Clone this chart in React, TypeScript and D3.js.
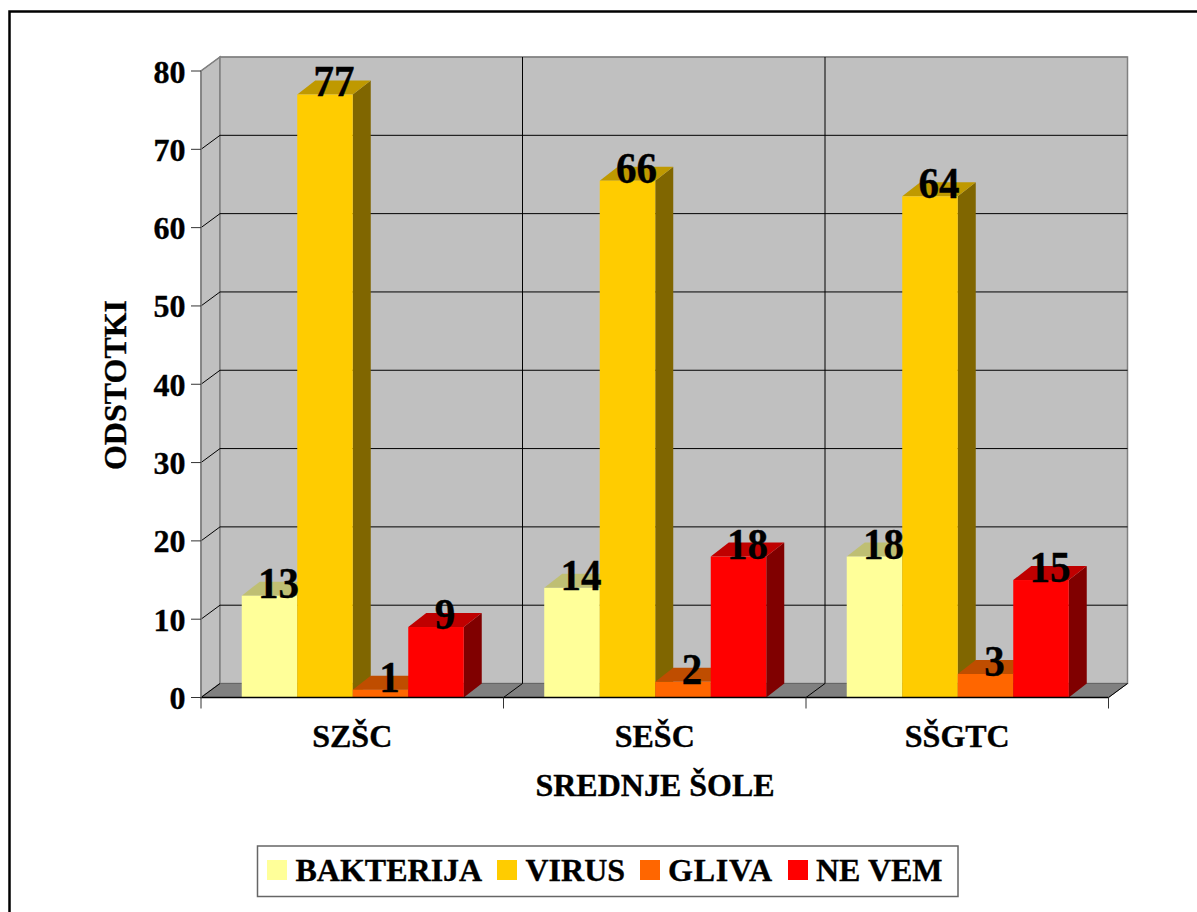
import React from "react";
import * as d3 from "d3";

const schools = ["SZŠC", "SEŠC", "SŠGTC"];
const seriesNames = ["BAKTERIJA", "VIRUS", "GLIVA", "NE VEM"];
const seriesColors = ["#ffff99", "#ffcc00", "#ff6600", "#ff0000"];
const bakterija = [13, 14, 18];
const virus = [77, 66, 64];
const gliva = [1, 2, 3];
const neVem = [9, 18, 15];
const seriesValues = [bakterija, virus, gliva, neVem];
const yTicks = [0, 10, 20, 30, 40, 50, 60, 70, 80];

const width = 1197;
const height = 912;
const font = "'Liberation Serif', 'Times New Roman', serif";

const x0 = 201;
const x1 = 1108.5;
const y0 = 697.5;
const y1 = 71;
// offset of the back wall
const wallDx = 19;
const wallDy = -14;
// offset of the bar depth
const barDx = 18;
const barDy = -14;

const y = d3.scaleLinear().domain([0, 80]).range([y0, y1]);
const xGroup = d3.scaleBand<string>().domain(schools).range([x0, x1]);
const xBar = d3
  .scaleBand<number>()
  .domain(d3.range(seriesNames.length))
  .range([0.5, xGroup.bandwidth() + 0.5])
  .paddingOuter(0.725)
  .paddingInner(0);

const poly = d3.line();
const closed = (pts: [number, number][]) => poly(pts) + "Z";
const shade = (c: string, k: number) => {
  const r = d3.rgb(c);
  return d3.rgb(r.r * k, r.g * k, r.b * k).formatHex();
};

const legendItems = [
  { swatch: 267, text: 295.5 },
  { swatch: 497, text: 525.5 },
  { swatch: 640, text: 668, length: 104 },
  { swatch: 788, text: 816 },
];

// the source text is a little heavier than Liberation bold
const heavy = { stroke: "#000", strokeWidth: 0.35 };

export default function App() {
  const boundaries = [...schools.map((s) => xGroup(s) as number), x1];
  return (
    <svg
      width={width}
      height={height}
      style={{ position: "absolute", left: 0, top: 0, display: "block" }}
      fontFamily={font}
      fontWeight="bold"
    >
      <rect width={width} height={height} fill="#fff" />
      <path d={`M9.5,${height}V11.5H${width}`} fill="none" stroke="#000" strokeWidth={2.5} />

      {/* walls */}
      <path
        d={closed([[x0, y0], [x0 + wallDx, y0 + wallDy], [x0 + wallDx, y1 + wallDy], [x0, y1]])}
        fill="#c0c0c0"
        stroke="#808080"
        strokeWidth={1.5}
      />
      <rect
        x={x0 + wallDx}
        y={y1 + wallDy}
        width={x1 - x0}
        height={y0 - y1}
        fill="#c0c0c0"
        stroke="#808080"
        strokeWidth={1.5}
      />
      <path
        d={closed([[x0, y0], [x1, y0], [x1 + wallDx, y0 + wallDy], [x0 + wallDx, y0 + wallDy]])}
        fill="#808080"
        stroke="#666"
        strokeWidth={1}
      />

      {/* gridlines */}
      {yTicks.slice(1).map((t) => (
        <path
          key={t}
          d={`M${x0},${y(t)}L${x0 + wallDx},${y(t) + wallDy}H${x1 + wallDx}`}
          fill="none"
          stroke={t === 80 ? "#808080" : "#000"}
          strokeWidth={1}
        />
      ))}
      {boundaries.slice(1, -1).map((b) => (
        <line key={b} x1={b + wallDx} x2={b + wallDx} y1={y1 + wallDy} y2={y0 + wallDy} stroke="#000" strokeWidth={1} />
      ))}
      {boundaries.map((b) => (
        <line key={b} x1={b} x2={b + wallDx} y1={y0} y2={y0 + wallDy} stroke="#000" strokeWidth={1} />
      ))}

      {/* bars */}
      {schools.map((s, gi) =>
        seriesNames.map((_, si) => {
          const v = seriesValues[si][gi];
          const left = (xGroup(s) as number) + (xBar(si) as number);
          const right = left + xBar.bandwidth();
          const top = y(v);
          const color = seriesColors[si];
          return (
            <g key={s + si}>
              <path
                d={closed([[right, y0], [right + barDx, y0 + barDy], [right + barDx, top + barDy], [right, top]])}
                fill={shade(color, 0.5)}
              />
              <path
                d={closed([[left, top], [right, top], [right + barDx, top + barDy], [left + barDx, top + barDy]])}
                fill={shade(color, 0.75)}
              />
              <rect x={left} y={top} width={right - left} height={y0 - top} fill={color} />
            </g>
          );
        })
      )}

      {/* axes */}
      <line x1={x0} x2={x1} y1={y0} y2={y0} stroke="#000" strokeWidth={1.5} />
      <line x1={x0} x2={x0} y1={y0} y2={y1} stroke="#808080" strokeWidth={1.5} />
      {yTicks.map((t) => (
        <g key={t}>
          <line x1={x0 - 10} x2={x0} y1={y(t)} y2={y(t)} stroke="#333" strokeWidth={1} />
          <text x={x0 - 15.5} y={y(t) + 11.5} textAnchor="end" fontSize={32} {...heavy}>
            {t}
          </text>
        </g>
      ))}
      {boundaries.map((b) => (
        <line key={b} x1={b} x2={b} y1={y0} y2={y0 + 11} stroke="#333" strokeWidth={1} />
      ))}
      {schools.map((s) => (
        <text
          key={s}
          x={(xGroup(s) as number) + xGroup.bandwidth() / 2}
          y={746.5}
          textAnchor="middle"
          fontSize={32}
          {...heavy}
        >
          {s}
        </text>
      ))}

      {/* value labels, slightly taller than wide as in the source */}
      {schools.map((s, gi) =>
        seriesNames.map((_, si) => {
          const v = seriesValues[si][gi];
          const cx = (xGroup(s) as number) + (xBar(si) as number) + xBar.bandwidth() / 2 + 9;
          return (
            <text
              key={s + si}
              transform={`translate(${cx},${y(v) + 2}) scale(1,1.08)`}
              textAnchor="middle"
              fontSize={41}
              {...heavy}
            >
              {v}
            </text>
          );
        })
      )}

      <text x={655} y={795.5} textAnchor="middle" fontSize={32} {...heavy}>
        SREDNJE ŠOLE
      </text>
      <text transform="translate(126,385) rotate(-90)" textAnchor="middle" fontSize={32} {...heavy}>
        ODSTOTKI
      </text>

      {/* legend */}
      <rect x={257.5} y={846} width={700.5} height={50.5} fill="#fff" stroke="#666" strokeWidth={1.5} />
      {seriesNames.map((n, i) => (
        <g key={n}>
          <rect x={legendItems[i].swatch} y={860} width={20} height={20} fill={seriesColors[i]} />
          <text x={legendItems[i].text} y={881} fontSize={32} textLength={legendItems[i].length} {...heavy}>
            {n}
          </text>
        </g>
      ))}
    </svg>
  );
}
